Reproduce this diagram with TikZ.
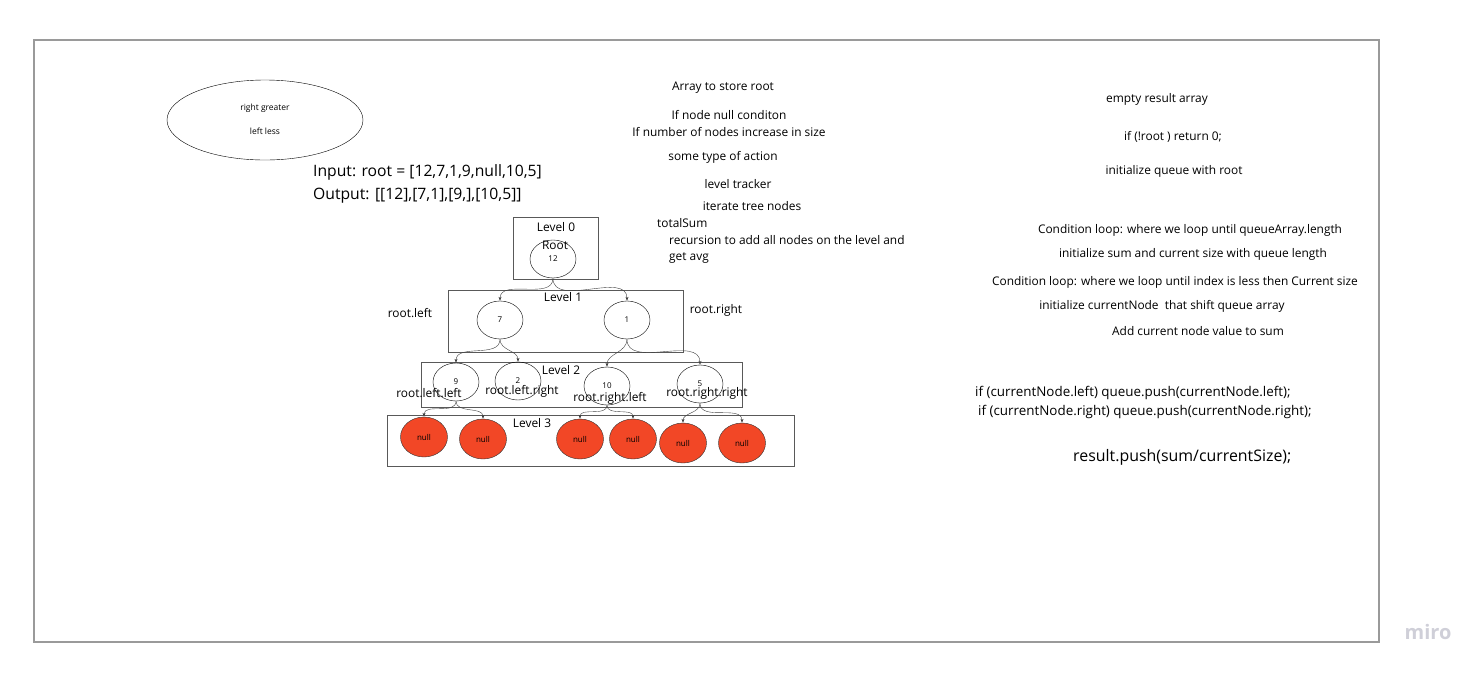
\documentclass[tikz,border=0pt]{standalone}
\usepackage{fontspec}
\setmainfont{Open Sans}
\usetikzlibrary{arrows.meta,shapes.geometric}
\definecolor{framegray}{HTML}{9A9A9A}
\definecolor{nullred}{HTML}{F24726}
\definecolor{mirogray}{HTML}{CFCFD8}

\begin{document}
\begin{tikzpicture}[x=1pt,y=-1pt,
  note/.style={font=\fontsize{11.9}{14}\selectfont, inner sep=0pt},
  tiny/.style={font=\fontsize{8.5}{10}\selectfont, inner sep=0pt},
  big/.style={font=\fontsize{15.7}{18}\selectfont, inner sep=0pt, anchor=west},
  code/.style={font=\fontsize{13.4}{16}\selectfont, inner sep=0pt, anchor=west},
  levelbox/.style={draw=black!65, line width=0.9pt},
  treenode/.style={draw, ellipse, minimum width=46, minimum height=38, inner sep=0pt, font=\fontsize{8}{9}\selectfont},
  nullnode/.style={treenode, fill=nullred, draw=black!80, minimum width=47, minimum height=40}]
\useasboundingbox (0,0) rectangle (1484,673);
\draw[framegray, line width=1.3pt] (34,40) rectangle (1379,642);

\node[draw, ellipse, minimum width=196, minimum height=80] (hint) at (265,120) {};
\node[tiny] (greater) at (265,108) {right greater};
\node[tiny] (less) at (265,131) {left less};

\node[big] (input) at (313,172) {Input: root = [12,7,1,9,null,10,5]};
\node[big] (output) at (313,196) {Output: [[12],[7,1],[9,],[10,5]]};

\node[note] (store) at (723,88) {Array to store root};
\node[note] (nullcond) at (729,115) {If node null conditon};
\node[note] (increase) at (729,132) {If number of nodes increase in size};
\node[note] (action) at (723,157) {some type of action};
\node[note] (tracker) at (738,184) {level tracker};
\node[note] (iterate) at (752,206) {iterate tree nodes};
\node[note, anchor=west] (total) at (657,223) {totalSum};
\node[note, anchor=west] (recursion) at (669,240) {recursion to add all nodes on the level and};
\node[note, anchor=west] (avg) at (669,258) {get avg};

\node[note] (empty) at (1157,99) {empty result array};
\node[note] (noroot) at (1173,137) {if (!root ) return 0;};
\node[note] (initqueue) at (1174,171) {initialize queue with root};
\node[note] (loop1) at (1190,230) {Condition loop: where we loop until queueArray.length};
\node[note] (initsum) at (1193,254) {initialize sum and current size with queue length};
\node[note] (loop2) at (1175,282) {Condition loop: where we loop until index is less then Current size};
\node[note] (shift) at (1162,306) {initialize currentNode\ \ that shift queue array};
\node[note] (add) at (1198,331) {Add current node value to sum};
\node[code] (pushleft) at (975,393) {if (currentNode.left) queue.push(currentNode.left);};
\node[code] (pushright) at (978,412) {if (currentNode.right) queue.push(currentNode.right);};
\node[big, font=\fontsize{15.9}{18}\selectfont] (result) at (1073,457) {result.push(sum/currentSize);};

% level boxes
\draw[levelbox] (513,217) rectangle (598,279);
\draw[levelbox] (448,290) rectangle (683,352);
\draw[levelbox] (421,362) rectangle (742,407);
\draw[levelbox] (387,415) rectangle (794,466);
\node[note] (level0) at (556,227) {Level 0};
\node[note] (level1) at (563,297) {Level 1};
\node[note] (level2) at (561,370) {Level 2};
\node[note] (level3) at (532,423) {Level 3};

\node[treenode] (12) at (553,259) {12};
\node[note] (root) at (555,245) {Root};
\node[treenode] (7) at (500,320) {7};
\node[treenode] (1) at (627,320) {1};
\node[treenode] (9) at (456,382) {9};
\node[treenode] (2) at (518,381) {2};
\node[treenode] (10) at (607,386) {10};
\node[treenode] (5) at (700,384) {5};
\node[nullnode] (null1) at (424,437) {null};
\node[nullnode] (null2) at (483,439) {null};
\node[nullnode] (null3) at (580,439) {null};
\node[nullnode] (null4) at (633,439) {null};
\node[nullnode] (null5) at (683,443) {null};
\node[nullnode] (null6) at (742,443) {null};

\node[note] (rl) at (410,313) {root.left};
\node[note] (rr) at (716,310) {root.right};
\node[note] (rll) at (429,393) {root.left.left};
\node[note] (rlr) at (522,391) {root.left.right};
\node[note] (rrl) at (610,398) {root.right.left};
\node[note] (rrr) at (707,393) {root.right.right};

\path[draw,black!75,-{Stealth[length=4pt,width=3pt]}] (12.south) to[out=-90,in=90] (7.north);
\path[draw,black!75,-{Stealth[length=4pt,width=3pt]}] (12.south) to[out=-90,in=90] (1.north);
\path[draw,black!75,-{Stealth[length=4pt,width=3pt]}] (7.south) to[out=-90,in=90] (9.north);
\path[draw,black!75,-{Stealth[length=4pt,width=3pt]}] (7.south) to[out=-90,in=90] (2.north);
\path[draw,black!75,-{Stealth[length=4pt,width=3pt]}] (1.south) to[out=-90,in=90] (10.north);
\path[draw,black!75,-{Stealth[length=4pt,width=3pt]}] (1.south) to[out=-90,in=90] (5.north);
\path[draw,black!75,-{Stealth[length=4pt,width=3pt]}] (9.south) to[out=-90,in=90] (null1.north);
\path[draw,black!75,-{Stealth[length=4pt,width=3pt]}] (9.south) to[out=-90,in=90] (null2.north);
\path[draw,black!75,-{Stealth[length=4pt,width=3pt]}] (10.south) to[out=-90,in=90] (null3.north);
\path[draw,black!75,-{Stealth[length=4pt,width=3pt]}] (10.south) to[out=-90,in=90] (null4.north);
\path[draw,black!75,-{Stealth[length=4pt,width=3pt]}] (5.south) to[out=-90,in=90] (null5.north);
\path[draw,black!75,-{Stealth[length=4pt,width=3pt]}] (5.south) to[out=-90,in=90] (null6.north);

\node[font=\fontsize{20}{24}\selectfont\bfseries, text=mirogray] (miro) at (1428,632) {miro};
\end{tikzpicture}
\end{document}
